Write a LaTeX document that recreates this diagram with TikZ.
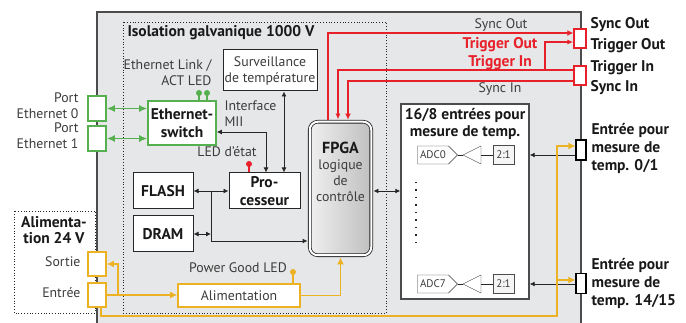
\documentclass[tikz,border=0pt]{standalone}
\usepackage{fontspec}
\setmainfont{PT Sans}
\usetikzlibrary{calc,shapes.symbols,arrows.meta,positioning}
\definecolor{isogray}{RGB}{230,231,232}
\definecolor{ledgreen}{RGB}{86,176,80}
\definecolor{sigred}{RGB}{232,32,42}
\definecolor{pwryellow}{RGB}{236,178,36}
\definecolor{txtgray}{RGB}{60,60,60}
\tikzset{my arrow/.style={
  black!85, line width=0.9pt,
  -{Latex[length=5pt,width=5pt]}
  }
}
\tikzset{my double arrow/.style={
  black!85, line width=0.9pt,
  {Latex[length=5pt,width=5pt]}-{Latex[length=5pt,width=5pt]}
  }
}
\tikzset{my green arrow/.style={
  ledgreen, line width=1.6pt,
  {Latex[length=8pt,width=7pt]}-{Latex[length=8pt,width=7pt]}
  }
}
\tikzset{my red arrow/.style={
  sigred, line width=1.4pt,
  -{Latex[length=6pt,width=6pt]}
  }
}
\tikzset{my thick red arrow/.style={
  sigred, line width=2.4pt,
  -{Latex[length=6pt,width=5pt]}
  }
}
\tikzset{my yellow arrow/.style={
  pwryellow, line width=1.6pt,
  -{Latex[length=7pt,width=7pt]}
  }
}
\tikzset{unit box/.style={draw=black!85, line width=1pt, fill=white, align=center, inner sep=1pt}}
\tikzset{bold text/.style={font=\fontsize{15.5}{17.5}\selectfont\bfseries, text=black!90}}

\begin{document}
\begin{tikzpicture}[x=1pt,y=-1pt,font=\fontsize{13.8}{16}\selectfont,text=txtgray]
    \clip (0,0) rectangle (686,323);
    \fill[isogray] (97,12) rectangle (581,330);
    \draw[black!70,line width=1.2pt] (97,330) -- (97,12) -- (581,12) -- (581,330);
    \draw[black!85,dotted,line width=0.8pt] (123,22) rectangle (386,313);
    \draw[black!85,dotted,line width=0.8pt] (14,211) rectangle (95,313);
    \node[anchor=west,bold text] (iso) at (124,33) {Isolation galvanique 1000 V};

    \node[unit box,minimum width=94pt,minimum height=41pt] (temp) at (270,70.5) {Surveillance\\de température};
    \node[unit box,draw=ledgreen,line width=1.6pt,minimum width=68pt,minimum height=44pt,bold text] (sw) at (182,123) {Ethernet-\\switch};
    \node[unit box,minimum width=71pt,minimum height=36pt,bold text] (cpu) at (264.5,191) {Pro-\\cesseur};
    \node[unit box,minimum width=60pt,minimum height=36pt,bold text] (flash) at (163,191) {FLASH};
    \node[unit box,minimum width=60pt,minimum height=36pt,bold text] (dram) at (163,234) {DRAM};
    \node[draw=black!85,line width=0.8pt,double=white,double distance=2pt,rounded corners=8pt,
          left color=gray!12,middle color=white,right color=gray!50,minimum width=61.5pt,minimum height=133.5pt] (fpga) at (340.5,188.5) {};
    \node[align=center,font=\fontsize{13.8}{16}\selectfont] (fpgatxt) at (340.5,172) {{\fontsize{16}{18}\selectfont\bfseries\color{black!90}FPGA}\\logique\\de\\contrôle};
    \node[unit box,draw=black!70,line width=1.4pt,minimum width=128pt,minimum height=195pt] (adc) at (465,201.5) {};
    \node[anchor=north,align=center,bold text,font=\fontsize{15.5}{16.5}\selectfont\bfseries] (adctitle) at (465,105) {16/8 entrées pour\\mesure de temp.};

    \foreach \y/\n in {108.5/0,138.5/1} {
        \node[draw=ledgreen,line width=1.6pt,fill=white,minimum width=18pt,minimum height=25pt] (eth\n) at (97,\y) {};
        \node[anchor=east,align=right] (ethlbl\n) at (82,\y-3) {Port\\Ethernet \n};
        \draw[my green arrow] (eth\n.east) -- (eth\n.east -| sw.west);
    }
    \foreach \x [count=\n] in {199,207} {
        \coordinate (led\n) at (\x,93);
        \draw[ledgreen,line width=1.2pt] (led\n) -- (led\n |- sw.north);
        \fill[ledgreen] (led\n) circle (3pt);
    }
    \node[anchor=east,align=right] (ledlbl) at (215,73) {Ethernet Link /\\ACT LED};
    \node[anchor=north west,align=left] (mii) at (221,97) {Interface\\MII};
    \node (etat) at (227,152) {LED d'état};

    \coordinate (miic) at (266,132);
    \draw[my double arrow] (sw.east |- miic) -| (miic |- cpu.north);
    \draw[my double arrow] ($(temp.south)+(14,0)$) -- ($(cpu.north)+(19.5,0)$);
    \coordinate (ledred) at (249,164);
    \draw[sigred,line width=1.2pt] (ledred) -- (ledred |- cpu.north);
    \fill[sigred] (ledred) circle (3pt);

    \draw[my double arrow] (flash) -- (cpu);
    \coordinate (bus) at (211,191);
    \draw[my arrow] (bus) |- ($(fpga.west)+(-1.8,52.5)$);
    \draw[my double arrow] (dram.east) -- (dram.east -| bus);
    \draw[my double arrow] ($(fpga.east |- cpu)+(1.8,0)$) -- (adc.west |- cpu);

    % connecteurs a droite
    \node[draw=sigred,line width=1.4pt,fill=white,minimum width=12pt,minimum height=19pt,inner sep=0pt] (so) at (580,38.5) {};
    \node[draw=sigred,line width=1.4pt,fill=white,minimum width=12pt,minimum height=19pt,inner sep=0pt] (si) at (580,75.5) {};
    \foreach \y/\k in {150/0,283.5/7}
        \node[draw=black,line width=1.2pt,fill=white,minimum width=10pt,minimum height=20pt,inner sep=0pt] (in\k) at (581,\y) {};
    \foreach \y/\t [count=\n] in {25/Sync Out,46/Trigger Out,68/Trigger In,88/Sync In}
        \node[anchor=west,bold text] (sync\n) at (587,\y) {\t};
    \node[anchor=north west,align=left,bold text,font=\fontsize{15.5}{18}\selectfont\bfseries] (in0lbl) at (588,120) {Entrée pour\\mesure de\\temp. 0/1};
    \node[anchor=north west,align=left,bold text,font=\fontsize{15.5}{18}\selectfont\bfseries] (in7lbl) at (588,255) {Entrée pour\\mesure de\\temp. 14/15};

    \node (solbl) at (501,25) {Sync Out};
    \node[align=center,bold text,text=sigred] (trglbl) at (500,53.5) {Trigger Out\\Trigger In};
    \node (silbl) at (500,89) {Sync In};

    \draw[my red arrow] ($(fpga.north)+(-12.5,-1.8)$) |- ($(so.west)+(0,-5.5)$);
    \draw[my thick red arrow] ($(si.west)+(0,-5.5)$) -| ($(fpga.north)+(-2.5,-1.8)$);
    \coordinate (trg) at (545,70);
    \draw[my thick red arrow] (trg) |- ($(so.west)+(0,3.5)$);
    \draw[my red arrow] ($(si.west)+(0,5.5)$) -| ($(fpga.north)+(7.5,-1.8)$);

    % voies ADC
    \foreach \y/\k in {155/0,284/7} {
        \node[signal,signal to=east,draw=black!80,fill=white,minimum width=40pt,minimum height=18pt,inner sep=1pt,font=\fontsize{11}{12}\selectfont] (adc\k) at (433,\y) {ADC\k};
        \coordinate (amp\k) at (463,\y);
        \node[draw=black!70,fill=gray!8,minimum width=21pt,minimum height=19pt,inner sep=0pt,font=\fontsize{11}{12}\selectfont] (mux\k) at (503.5,\y) {2:1};
        \draw[black!85] (adc\k.east) -- (amp\k);
        \draw[black!80,fill=white] (amp\k) -- ++(18,-9) -- ++(0,18) -- cycle;
        \draw[black!85] (amp\k) ++(18,0) -- (mux\k.west);
        \draw[my arrow] (in\k.west |- mux\k) -- (adc.east |- mux\k);
    }
    \draw[black!85,line width=1.3pt,dash pattern=on 1.5pt off 6pt] (416,182) -- (416,248);

    % alimentation
    \node[draw=pwryellow,line width=1.6pt,fill=white,minimum width=18pt,minimum height=24pt] (sortie) at (97,264) {};
    \node[draw=pwryellow,line width=1.6pt,fill=white,minimum width=18pt,minimum height=24pt] (entree) at (97,295) {};
    \node[draw=pwryellow,line width=1.6pt,fill=white,minimum width=122pt,minimum height=23pt] (alim) at (239,295.5) {Alimentation};
    \node[align=center,bold text,font=\fontsize{15.5}{16.5}\selectfont\bfseries] (alimlbl) at (54,230) {Alimenta-\\tion 24 V};
    \node[anchor=east] (sortielbl) at (84,262) {Sortie};
    \node[anchor=east] (entreelbl) at (84,293) {Entrée};
    \node (pglbl) at (238,268) {Power Good LED};
    \coordinate (ledpg) at (293,272);
    \draw[pwryellow,line width=1.2pt] (ledpg) -- (ledpg |- alim.north);
    \fill[pwryellow] (ledpg) circle (3pt);

    \draw[my yellow arrow] (entree.east) -- (entree.east -| alim.west);
    \coordinate (ybr) at (118,295);
    \draw[my yellow arrow] (ybr) |- (sortie.east);
    \draw[my yellow arrow] (alim.east) -| ($(fpga.south)+(0,1.8)$);
    \coordinate (ybus) at (557,316);
    \draw[my yellow arrow] ($(entree.south)+(4,0)$) |- (ybus) |- ($(in0.west)+(0,-4)$);
    \draw[my yellow arrow] ($(ybus |- in7.west)+(0,-3.5)$) -- ($(in7.west)+(0,-3.5)$);
\end{tikzpicture}
\end{document}
